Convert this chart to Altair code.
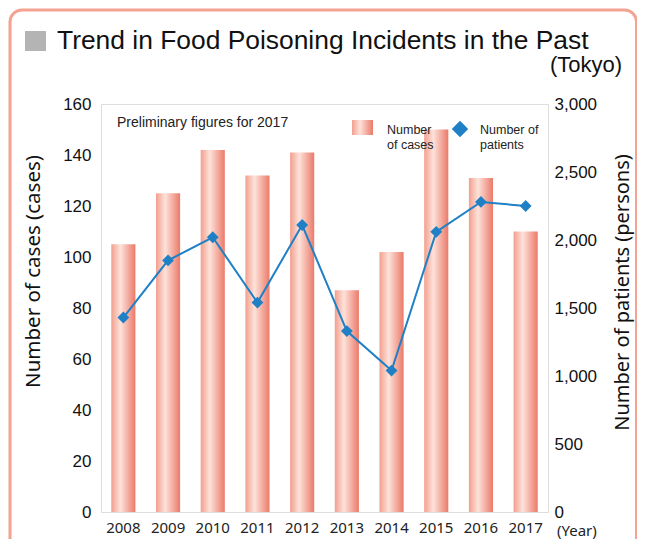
import altair as alt
import pandas as pd

years = ["2008", "2009", "2010", "2011", "2012", "2013", "2014", "2015", "2016", "2017"]
cases = [105, 125, 142, 132, 141, 87, 102, 150, 131, 110]
patients = [1430, 1850, 2020, 1540, 2110, 1330, 1040, 2060, 2280, 2250]
left_ticks = [0, 20, 40, 60, 80, 100, 120, 140, 160]
right_ticks = [0, 500, 1000, 1500, 2000, 2500, 3000]

df = pd.DataFrame({"year": years, "cases": cases, "patients": patients})
one = pd.DataFrame({"k": [0]})

BLUE = "#1f80c6"
grad = alt.Gradient(
    gradient="linear", x1=0, x2=1, y1=0, y2=0,
    stops=[
        alt.GradientStop(offset=0, color="#f29f8e"),
        alt.GradientStop(offset=0.38, color="#fde2da"),
        alt.GradientStop(offset=1, color="#eb7a69"),
    ],
)

xenc = alt.X(
    "year:N",
    sort=years,
    scale=alt.Scale(paddingInner=0.46, paddingOuter=0.23),
    axis=alt.Axis(title=None, labelAngle=0, ticks=False, domain=False,
                  labelFont="Noto Sans", labelFontSize=15, labelColor="#222",
                  labelPadding=8),
)

bars = alt.Chart(df).mark_bar(color=grad).encode(
    x=xenc,
    y=alt.Y("cases:Q", scale=alt.Scale(domain=[0, 160]),
            axis=alt.Axis(orient="left", values=left_ticks, grid=False, ticks=False,
                          domain=False, labelFont="Liberation Sans", labelFontSize=17,
                          labelColor="#111", labelPadding=10,
                          title="Number of cases (cases)", titleFont="Noto Sans",
                          titleFontSize=20.5, titleFontWeight="normal", titleColor="#111",
                          titleAngle=270, titleX=-68, titleY=167,
                          titleAlign="center", titleBaseline="middle")),
)

line = alt.Chart(df).mark_line(
    color=BLUE, strokeWidth=2,
    point=alt.OverlayMarkDef(shape="diamond", size=140, filled=True, color=BLUE, opacity=1),
).encode(
    x=xenc,
    y=alt.Y("patients:Q", scale=alt.Scale(domain=[0, 3000]),
            axis=alt.Axis(orient="right", values=right_ticks, format=",.0f", grid=False,
                          ticks=False, domain=False, labelFont="Liberation Sans",
                          labelFontSize=17, labelColor="#111", labelPadding=6,
                          title="Number of patients (persons)", titleFont="Noto Sans",
                          titleFontSize=20, titleFontWeight="normal", titleColor="#111",
                          titleAngle=270, titleX=74, titleY=188,
                          titleAlign="center", titleBaseline="middle")),
)

border = alt.Chart(one).mark_rect(
    fill="white", fillOpacity=0, stroke="#f4a292", strokeWidth=3, cornerRadius=12
).encode(x=alt.value(-91), x2=alt.value(535.5), y=alt.value(-94), y2=alt.value(470))

square = alt.Chart(one).mark_rect(color="#b4b4b4").encode(
    x=alt.value(-76), x2=alt.value(-55), y=alt.value(-73), y2=alt.value(-53))

title = alt.Chart(one).mark_text(
    align="left", baseline="middle", font="Liberation Sans", fontSize=26.4, color="#111"
).encode(x=alt.value(-44), y=alt.value(-63),
         text=alt.value("Trend in Food Poisoning Incidents in the Past"))

tokyo = alt.Chart(one).mark_text(
    align="right", baseline="middle", font="Liberation Sans", fontSize=22, color="#111"
).encode(x=alt.value(521), y=alt.value(-39), text=alt.value("(Tokyo)"))

prelim = alt.Chart(one).mark_text(
    align="left", baseline="middle", font="Liberation Sans", fontSize=14, color="#222"
).encode(x=alt.value(16), y=alt.value(19), text=alt.value("Preliminary figures for 2017"))

year_lbl = alt.Chart(one).mark_text(
    align="left", baseline="middle", font="Noto Sans", fontSize=15, color="#222"
).encode(x=alt.value(456), y=alt.value(427), text=alt.value("(Year)"))

leg_box = alt.Chart(one).mark_rect(color="white").encode(
    x=alt.value(241), x2=alt.value(436), y=alt.value(11), y2=alt.value(37))

leg_swatch = alt.Chart(one).mark_rect(color=grad).encode(
    x=alt.value(251), x2=alt.value(272), y=alt.value(16), y2=alt.value(31))

leg_t1 = alt.Chart(one).mark_text(
    align="left", baseline="middle", font="Liberation Sans", fontSize=12.5,
    color="#222", lineHeight=15
).encode(x=alt.value(286), y=alt.value(25.5), text=alt.value(["Number", "of cases"]))

leg_diamond = alt.Chart(one).mark_point(
    shape="diamond", size=270, filled=True, color=BLUE, opacity=1
).encode(x=alt.value(359), y=alt.value(25))

leg_t2 = alt.Chart(one).mark_text(
    align="left", baseline="middle", font="Liberation Sans", fontSize=12.5,
    color="#222", lineHeight=15
).encode(x=alt.value(379), y=alt.value(25.5), text=alt.value(["Number of", "patients"]))

chart = alt.layer(
    border, square, title, tokyo, leg_box, bars, line, prelim, year_lbl,
    leg_swatch, leg_t1, leg_diamond, leg_t2
).resolve_scale(y="independent").properties(
    width=447, height=408,
    padding={"left": 93, "top": 96, "right": 89, "bottom": 27},
    autosize=alt.AutoSizeParams(type="none"),
).configure_view(stroke="black", strokeWidth=1.5, fill="#fdefeb").configure(background="white")

chart.save("out.html", embed_options={"renderer": "svg", "actions": False})
